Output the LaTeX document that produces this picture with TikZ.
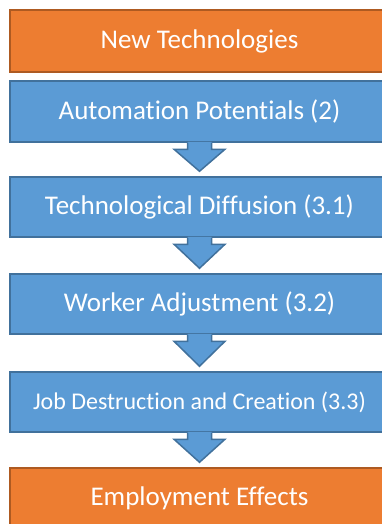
\documentclass[tikz,border=0pt]{standalone}
\usepackage{fontspec}
\setmainfont{Carlito}[Ligatures=NoCommon]
\usetikzlibrary{calc}
\definecolor{orfill}{HTML}{ED7D31}
\definecolor{orline}{HTML}{AE5A21}
\definecolor{blfill}{HTML}{5B9BD5}
\definecolor{blline}{HTML}{41719C}
\tikzset{
  box/.style={rectangle, minimum width=379pt, inner sep=0pt, line width=1.5pt,
    text=white, font=\fontsize{27}{31}\selectfont},
  orbox/.style={box, fill=orfill, draw=orline},
  blbox/.style={box, fill=blfill, draw=blline},
  arrfill/.style={fill=blfill},
  arrline/.style={draw=blline, line width=1.5pt, line join=miter},
}
\newcommand\flowarrow[2]{%
  \fill[arrfill] ($(#1.south)+(-12,-1)$) -- ($(#1.south)+(-12,6.5)$) -- ($(#1.south)+(-25.5,6.5)$)
    -- ($(#2.north)+(0,-5)$) -- ($(#1.south)+(25.5,6.5)$) -- ($(#1.south)+(12,6.5)$)
    -- ($(#1.south)+(12,-1)$) -- cycle;
  \draw[arrline] ($(#1.south)+(-12,0)$) -- ($(#1.south)+(-12,6.5)$) -- ($(#1.south)+(-25.5,6.5)$)
    -- ($(#2.north)+(0,-5)$) -- ($(#1.south)+(25.5,6.5)$) -- ($(#1.south)+(12,6.5)$)
    -- ($(#1.south)+(12,0)$);
}
\begin{document}
\begin{tikzpicture}[x=1pt,y=-1pt]
\useasboundingbox (0,0) rectangle (382,524);
\clip (0,0) rectangle (382,524);
\fill[white] (0,0) rectangle (382,524);
\node[orbox, minimum height=62pt] (b0) at (199.5,41) {New Technologies};
\node[blbox, minimum height=61pt] (b1) at (199.5,111.5) {Automation Potentials (2)};
\node[blbox, minimum height=60pt] (b2) at (199.5,207) {Technological Diffusion (3.1)};
\node[blbox, minimum height=60pt] (b3) at (199.5,304) {Worker Adjustment (3.2)};
\node[blbox, minimum height=60pt, font=\fontsize{24}{28}\selectfont] (b4) at (199.5,402) {Job Destruction and Creation (3.3)};
\node[orbox, minimum height=61pt] (b5) at (199.5,498.5) {Employment Effects};
\flowarrow{b1}{b2}
\flowarrow{b2}{b3}
\flowarrow{b3}{b4}
\flowarrow{b4}{b5}
\end{tikzpicture}
\end{document}
